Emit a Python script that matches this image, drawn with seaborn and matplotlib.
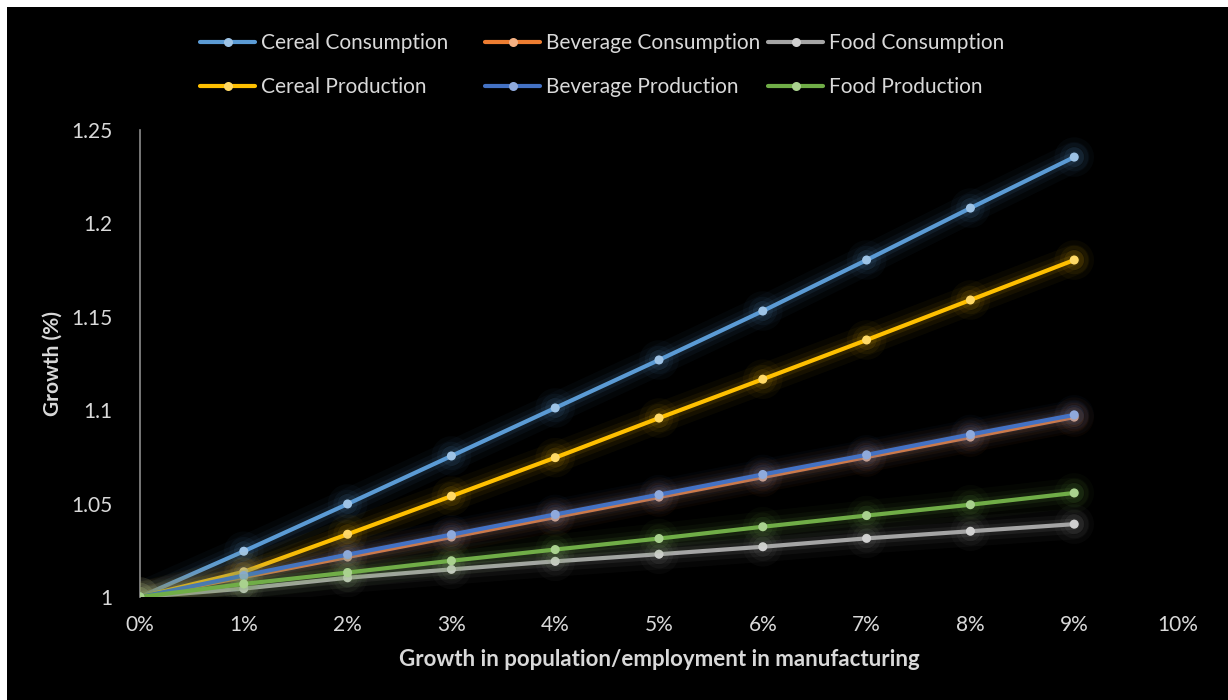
import numpy as np
import pandas as pd
import matplotlib
matplotlib.use("Agg")
import matplotlib.pyplot as plt
import matplotlib.patheffects as pe
from matplotlib.patches import Rectangle
from matplotlib.ticker import FuncFormatter
import seaborn as sns

# ---- data ----
growth = [0.00, 0.01, 0.02, 0.03, 0.04, 0.05, 0.06, 0.07, 0.08, 0.09]
cereal_consumption = [1.0, 1.0245, 1.0498, 1.0755, 1.1012, 1.1269, 1.1531, 1.1804, 1.2082, 1.2355]
beverage_consumption = [1.0, 1.0107, 1.0214, 1.0321, 1.0428, 1.0535, 1.0642, 1.0749, 1.0856, 1.0963]
food_consumption = [1.0, 1.0045, 1.0103, 1.0148, 1.0191, 1.0229, 1.0269, 1.0314, 1.0352, 1.0390]
cereal_production = [1.0, 1.0135, 1.0336, 1.0540, 1.0746, 1.0958, 1.1166, 1.1376, 1.1590, 1.1804]
beverage_production = [1.0, 1.0115, 1.0227, 1.0334, 1.0442, 1.0548, 1.0656, 1.0761, 1.0870, 1.0975]
food_production = [1.0, 1.0070, 1.0131, 1.0194, 1.0254, 1.0313, 1.0376, 1.0436, 1.0494, 1.0557]

series_names = ["Cereal Consumption", "Beverage Consumption", "Food Consumption",
                "Cereal Production", "Beverage Production", "Food Production"]
series_values = [cereal_consumption, beverage_consumption, food_consumption,
                 cereal_production, beverage_production, food_production]
line_colors = ["#5B9BD5", "#ED7D31", "#A5A5A5", "#FFC000", "#4472C4", "#70AD47"]
marker_colors = ["#9DC3E6", "#F4B183", "#D0D0D0", "#FFD966", "#8FAADC", "#A9D18E"]

x_ticks = [0.00, 0.01, 0.02, 0.03, 0.04, 0.05, 0.06, 0.07, 0.08, 0.09, 0.10]
y_ticks = [1.0, 1.05, 1.1, 1.15, 1.2, 1.25]
y_tick_labels = ["1", "1.05", "1.1", "1.15", "1.2", "1.25"]

df = pd.concat([pd.DataFrame({"growth": growth, "value": v, "series": n})
                for n, v in zip(series_names, series_values)], ignore_index=True)

sns.set_style("dark")
plt.rcParams["font.family"] = ["Lato", "DejaVu Sans"]

fig = plt.figure(figsize=(12.28, 7.0), dpi=100, facecolor="white")
fig.patches.append(Rectangle((7 / 1228, 0), 1 - 7 / 1228, 1 - 7 / 700,
                             transform=fig.transFigure, facecolor="black",
                             edgecolor="none", zorder=-10))
ax = fig.add_axes([140 / 1228, 1 - 597 / 700, (1178 - 140) / 1228, (597 - 130) / 700])
ax.set_facecolor("black")
ax.set_zorder(1)

handles = {}
for i, (name, lc, mc) in enumerate(zip(series_names, line_colors, marker_colors)):
    sub = df[df["series"] == name]
    sns.lineplot(data=sub, x="growth", y="value", ax=ax, color=lc, linewidth=3.0,
                 marker="o", markersize=6.5, markerfacecolor=mc, markeredgewidth=0,
                 label=name, zorder=3 + i)
    line = ax.lines[-1]
    line.set_path_effects([pe.Stroke(linewidth=22, foreground=lc, alpha=0.04),
                           pe.Stroke(linewidth=14, foreground=lc, alpha=0.06),
                           pe.Stroke(linewidth=8, foreground=lc, alpha=0.10),
                           pe.Normal()])
    handles[name] = line
ax.get_legend().remove()

ax.set_xlim(0, 0.10)
ax.set_ylim(1.0, 1.25)
ax.set_xticks(x_ticks)
ax.xaxis.set_major_formatter(FuncFormatter(lambda v, p: f"{v*100:.0f}%"))
ax.set_yticks(y_ticks)
ax.set_yticklabels(y_tick_labels)
ax.tick_params(axis="both", colors="#D9D9D9", labelsize=15, length=0)
ax.tick_params(axis="x", pad=13)
ax.tick_params(axis="y", pad=20)
ax.grid(False)
for s in ["top", "right", "bottom"]:
    ax.spines[s].set_visible(False)
ax.spines["left"].set_visible(True)
ax.spines["left"].set_color("#8C8C8C")
ax.spines["left"].set_linewidth(1.2)

ax.set_xlabel("Growth in population/employment in manufacturing", color="#D9D9D9",
              fontsize=16, fontweight="bold", labelpad=10)
ax.set_ylabel("Growth (%)", color="#D9D9D9", fontsize=15, fontweight="bold", labelpad=6)

# legend: three fixed-position columns, two rows each
legend_columns = [["Cereal Consumption", "Cereal Production"],
                  ["Beverage Consumption", "Beverage Production"],
                  ["Food Consumption", "Food Production"]]
col_x = [200, 485, 768]
for names, cx in zip(legend_columns, col_x):
    leg = fig.legend([handles[n] for n in names], names, loc="center left",
                     bbox_to_anchor=(cx / 1228, 1 - 65 / 700), bbox_transform=fig.transFigure,
                     frameon=False, fontsize=15, labelcolor="#D9D9D9", handlelength=2.65,
                     handletextpad=0.3, labelspacing=1.15, borderaxespad=0, borderpad=0)
    for h in leg.legend_handles:
        h.set_path_effects([])
    leg.set_zorder(5)

fig.savefig("out.png", dpi=100, facecolor="white")
